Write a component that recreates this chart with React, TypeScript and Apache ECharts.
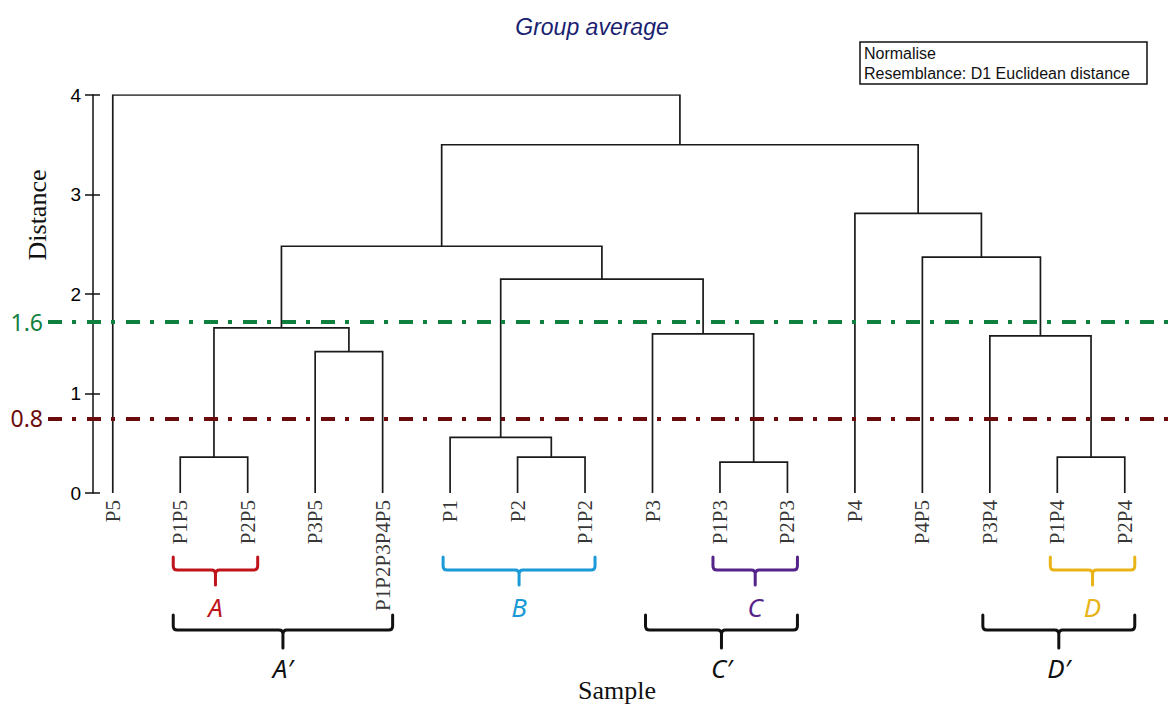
import React, { useEffect, useRef } from "react";
import * as echarts from "echarts";

// Leaves in dendrogram order (node ids 0..15)
const leafNames = [
  "P5", "P1P5", "P2P5", "P3P5", "P1P2P3P4P5", "P1", "P2", "P1P2",
  "P3", "P1P3", "P2P3", "P4", "P4P5", "P3P4", "P1P4", "P2P4",
];
// Merges in order; each creates a new node id 16, 17, ...
const mergePairs: [number, number][] = [
  [1, 2], [6, 7], [9, 10], [14, 15], [5, 17], [3, 4], [13, 19], [8, 18],
  [16, 21], [20, 23], [12, 22], [24, 25], [11, 26], [27, 28], [0, 29],
];
const mergeHeights = [
  0.36, 0.36, 0.31, 0.36, 0.56, 1.42, 1.58, 1.6,
  1.66, 2.15, 2.37, 2.48, 2.81, 3.5, 4.0,
];
const yTicks = [0, 1, 2, 3, 4];
const cutLevels = [1.72, 0.75];
const cutLabels = ["1.6", "0.8"];
const cutColors = ["#10803f", "#6b0c0c"];
const braceLabels = ["A", "B", "C", "D", "A\u2032", "C\u2032", "D\u2032"];
const braceFrom = [1, 5, 9, 14, 1, 8, 13];
const braceTo = [2, 7, 10, 15, 4, 10, 15];
const braceRow = [0, 0, 0, 0, 1, 1, 1];
const braceColors = ["#c0141c", "#1a9ad6", "#55248a", "#e8b417", "#111111", "#111111", "#111111"];

function buildLinks() {
  const nodeX: number[] = leafNames.map((_, i) => i);
  const nodeH: number[] = leafNames.map(() => 0);
  const links = mergePairs.map(([a, b], k) => {
    const h = mergeHeights[k];
    const coords = [
      [nodeX[a], nodeH[a]],
      [nodeX[a], h],
      [nodeX[b], h],
      [nodeX[b], nodeH[b]],
    ];
    nodeX.push((nodeX[a] + nodeX[b]) / 2);
    nodeH.push(h);
    return { coords };
  });
  return links;
}

export default function App() {
  const ref = useRef<HTMLDivElement>(null);
  useEffect(() => {
    if (!ref.current) return;
    const chart = echarts.init(ref.current, undefined, { renderer: "svg" });
    const links = buildLinks();
    const axisCommon = {
      type: "value" as const,
      position: "left" as const,
      min: 0,
      max: 4,
      interval: 1,
      offset: -45,
      splitLine: { show: false },
    };
    chart.setOption({
      animation: false,
      backgroundColor: "#ffffff",
      grid: { left: 48, right: 1, top: 95, bottom: 213 },
      xAxis: { type: "value", min: -0.96, max: 15.7, show: false },
      yAxis: [
        {
          ...axisCommon,
          axisLine: { show: true, onZero: false, lineStyle: { color: "#111", width: 1.5 } },
          axisTick: { show: true, length: 8, lineStyle: { color: "#111", width: 1.5 } },
          axisLabel: {
            margin: 12,
            color: "#000",
            fontSize: 19,
            fontFamily: "Liberation Sans",
            formatter: (v: number) => (yTicks.includes(v) ? String(v) : ""),
          },
        },
        {
          ...axisCommon,
          axisLine: { show: false, onZero: false },
          axisTick: { show: true, inside: true, length: 7, lineStyle: { color: "#111", width: 1.5 } },
          axisLabel: { show: false },
        },
      ],
      series: [
        {
          type: "lines",
          coordinateSystem: "cartesian2d",
          polyline: true,
          silent: true,
          lineStyle: { color: "#1a1a1a", width: 1.7, opacity: 1 },
          data: links,
        },
        {
          type: "scatter",
          symbolSize: 0,
          silent: true,
          clip: false,
          data: leafNames.map((n, i) => ({ value: [i, 0], name: n })),
          label: {
            show: true,
            position: "bottom",
            distance: 7,
            rotate: 90,
            align: "right",
            verticalAlign: "middle",
            formatter: (p: any) => p.name,
            fontFamily: "Liberation Serif",
            fontSize: 21,
            color: "#000",
          },
          markLine: {
            silent: true,
            symbol: "none",
            animation: false,
            data: cutLevels.map((v, i) => ({
              yAxis: v,
              lineStyle: { color: cutColors[i], width: 4, type: [14, 10, 4, 11] },
              label: {
                show: true,
                position: "start",
                distance: 5,
                formatter: cutLabels[i],
                color: cutColors[i],
                fontSize: 23,
                fontFamily: "Noto Sans",
              },
            })),
          },
        },
        {
          type: "custom",
          coordinateSystem: "cartesian2d",
          clip: false,
          silent: true,
          data: braceLabels.map((_, i) => [braceFrom[i], braceTo[i], braceRow[i], i]),
          encode: { x: [0, 1], y: 2 },
          renderItem: (_params: any, api: any) => {
            const i = api.value(3);
            const row = api.value(2);
            const p1 = api.coord([api.value(0), 0]);
            const p2 = api.coord([api.value(1), 0]);
            const base = p1[1];
            const top = base + (row ? 122 : 64);
            const mid = top + (row ? 15 : 13);
            const tip = mid + (row ? 18 : 15);
            const letterY = base + (row ? 175 : 114);
            const x1 = p1[0] - 7;
            const x2 = p2[0] + 10;
            const xm = (x1 + x2) / 2;
            const r = 4;
            const d =
              `M${x1},${top} L${x1},${mid - r} Q${x1},${mid} ${x1 + r},${mid} ` +
              `L${xm - r},${mid} Q${xm},${mid} ${xm},${mid + r} L${xm},${tip} ` +
              `M${xm},${mid + r} Q${xm},${mid} ${xm + r},${mid} ` +
              `L${x2 - r},${mid} Q${x2},${mid} ${x2},${mid - r} L${x2},${top}`;
            const c = braceColors[i];
            return {
              type: "group",
              children: [
                {
                  type: "path",
                  shape: { pathData: d },
                  style: { stroke: c, lineWidth: 3, fill: null, lineCap: "round", lineJoin: "round" },
                },
                {
                  type: "text",
                  style: {
                    text: braceLabels[i],
                    x: xm,
                    y: letterY,
                    fill: c,
                    fontSize: 26,
                    fontStyle: "italic",
                    fontFamily: "Noto Sans",
                    align: "center",
                    verticalAlign: "middle",
                  },
                },
              ],
            };
          },
        },
      ],
      graphic: [
        {
          type: "text",
          x: 592,
          y: 27,
          style: {
            text: "Group average",
            fill: "#1a1f70",
            fontSize: 23,
            fontStyle: "italic",
            fontFamily: "Liberation Sans",
            align: "center",
            verticalAlign: "middle",
          },
        },
        {
          type: "rect",
          shape: { x: 860, y: 42, width: 287, height: 42 },
          style: { fill: "#ffffff", stroke: "#111", lineWidth: 1.5 },
        },
        {
          type: "text",
          x: 864,
          y: 53,
          style: { text: "Normalise", fill: "#111", fontSize: 16, fontFamily: "Liberation Sans", verticalAlign: "middle" },
        },
        {
          type: "text",
          x: 864,
          y: 73,
          style: {
            text: "Resemblance: D1 Euclidean distance",
            fill: "#111",
            fontSize: 16,
            fontFamily: "Liberation Sans",
            verticalAlign: "middle",
          },
        },
        {
          type: "text",
          x: 37,
          y: 215,
          rotation: Math.PI / 2,
          style: {
            text: "Distance",
            fill: "#111",
            fontSize: 26,
            fontFamily: "Liberation Serif",
            align: "center",
            verticalAlign: "middle",
          },
        },
        {
          type: "text",
          x: 617,
          y: 690,
          style: {
            text: "Sample",
            fill: "#111",
            fontSize: 26,
            fontFamily: "Liberation Serif",
            align: "center",
            verticalAlign: "middle",
          },
        },
      ],
    });
    return () => chart.dispose();
  }, []);
  return (
    <div
      ref={ref}
      style={{ position: "fixed", left: 0, top: 0, width: 1173, height: 706, background: "#fff" }}
    />
  );
}
